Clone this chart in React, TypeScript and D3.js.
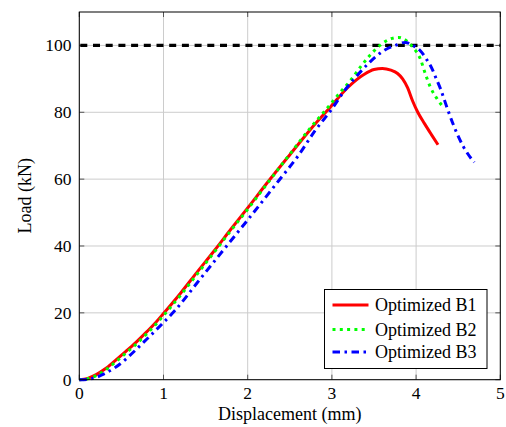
import React, { useRef, useEffect } from "react";
import * as d3 from "d3";

// displacement (mm), load (kN)
const b1: [number, number][] = [
  [0, 0], [0.1, 0.4], [0.2, 1.5], [0.3, 3.1], [0.43, 5.8], [0.55, 8.4], [0.67, 11.1],
  [0.8, 14.3], [0.9, 16.9], [1.0, 19.8], [1.2, 25.8], [1.4, 32.2], [1.61, 38.8],
  [1.8, 45], [2.0, 51.4], [2.26, 59.8], [2.51, 67.6], [2.75, 75], [2.98, 81.5],
  [3.18, 87.2], [3.38, 91.3], [3.5, 92.8], [3.6, 93.1], [3.7, 92.6], [3.78, 91.6],
  [3.84, 90], [3.9, 87.3], [3.96, 83.3], [4.02, 80], [4.1, 76.6], [4.18, 73.4], [4.26, 70.3],
];

const b2: [number, number][] = [
  [0, 0], [0.1, 0.3], [0.2, 1.2], [0.3, 2.7], [0.43, 5.3], [0.55, 7.9], [0.67, 10.5],
  [0.8, 13.7], [0.9, 16.3], [1.0, 19.2], [1.2, 25.2], [1.4, 31.6], [1.61, 38.4],
  [1.8, 44.6], [2.0, 51], [2.26, 59.6], [2.51, 67.8], [2.75, 75.5], [2.92, 80.5],
  [3.1, 86], [3.22, 89.5], [3.34, 93.6], [3.45, 97], [3.57, 100], [3.68, 101.8],
  [3.79, 102.4], [3.88, 101.5], [3.96, 99.5], [4.05, 96], [4.11, 91.5], [4.17, 87.5],
  [4.25, 84], [4.33, 81.3],
];

const b3: [number, number][] = [
  [0, 0], [0.1, 0.1], [0.19, 0.6], [0.3, 1.8], [0.43, 3.7], [0.55, 6.1], [0.67, 8.9],
  [0.8, 12.1], [0.98, 16.6], [1.14, 20.8], [1.4, 29], [1.75, 40], [2.0, 47.8],
  [2.37, 59.6], [2.6, 67], [2.8, 74.5], [3.0, 81], [3.15, 86.5], [3.3, 91],
  [3.45, 95], [3.6, 98.2], [3.75, 100], [3.87, 100.9], [3.96, 100], [4.05, 98.4],
  [4.12, 96], [4.19, 93], [4.24, 90], [4.29, 87], [4.37, 81.2], [4.45, 75.8],
  [4.56, 69.8], [4.69, 65],
];

const limitLoad = 100;
const xTicks = [0, 1, 2, 3, 4, 5];
const yTicks = [0, 20, 40, 60, 80, 100];
const seriesNames = ["Optimized B1", "Optimized B2", "Optimized B3"];

const W = 506;
const H = 427;
const FONT = "'Times New Roman', 'Liberation Serif', Times, 'DejaVu Serif', serif";

export default function App() {
  const svgRef = useRef<SVGSVGElement>(null);

  useEffect(() => {
    const svg = d3.select(svgRef.current);
    svg.selectAll("*").remove();

    const left = 79.3, right = 500.3, top = 12, bottom = 379.7;
    const x = d3.scaleLinear().domain([0, 5]).range([left, right]);
    const y = d3.scaleLinear().domain([0, 110]).range([bottom, top]);

    // grid
    const grid = svg.append("g").attr("stroke", "#cccccc").attr("stroke-width", 1);
    xTicks.forEach((t) => {
      grid.append("line").attr("x1", x(t)).attr("x2", x(t)).attr("y1", top).attr("y2", bottom);
    });
    yTicks.forEach((t) => {
      grid.append("line").attr("x1", left).attr("x2", right).attr("y1", y(t)).attr("y2", y(t));
    });

    // inward ticks on all four sides
    const ticks = svg.append("g").attr("stroke", "#555").attr("stroke-width", 1);
    xTicks.forEach((t) => {
      ticks.append("line").attr("x1", x(t)).attr("x2", x(t)).attr("y1", bottom).attr("y2", bottom - 5);
      ticks.append("line").attr("x1", x(t)).attr("x2", x(t)).attr("y1", top).attr("y2", top + 5);
    });
    yTicks.forEach((t) => {
      ticks.append("line").attr("x1", left).attr("x2", left + 5).attr("y1", y(t)).attr("y2", y(t));
      ticks.append("line").attr("x1", right).attr("x2", right - 5).attr("y1", y(t)).attr("y2", y(t));
    });

    // tick labels
    svg.append("g")
      .selectAll("text")
      .data(xTicks)
      .join("text")
      .attr("x", (d) => x(d))
      .attr("y", 398.5)
      .attr("text-anchor", "middle")
      .style("font-family", FONT)
      .style("font-size", "17.5px")
      .text((d) => d);

    svg.append("g")
      .selectAll("text")
      .data(yTicks)
      .join("text")
      .attr("x", 71.5)
      .attr("y", (d) => y(d) + 6)
      .attr("text-anchor", "end")
      .style("font-family", FONT)
      .style("font-size", "17.5px")
      .text((d) => d);

    // axis labels
    svg.append("text")
      .attr("x", (left + right) / 2)
      .attr("y", 420)
      .attr("text-anchor", "middle")
      .style("font-family", FONT)
      .style("font-size", "18px")
      .text("Displacement (mm)");

    svg.append("text")
      .attr("transform", `translate(31,${(top + bottom) / 2}) rotate(-90)`)
      .attr("text-anchor", "middle")
      .style("font-family", FONT)
      .style("font-size", "18px")
      .text("Load (kN)");

    // limit line
    svg.append("line")
      .attr("x1", x(0))
      .attr("x2", x(5))
      .attr("y1", y(limitLoad))
      .attr("y2", y(limitLoad))
      .attr("stroke", "black")
      .attr("stroke-width", 3.2)
      .attr("stroke-dasharray", "7,5.7")
      .attr("stroke-dashoffset", -1);

    const line = d3
      .line<[number, number]>()
      .x((d) => x(d[0]))
      .y((d) => y(d[1]))
      .curve(d3.curveMonotoneX);

    const styles = [
      { data: b1, color: "#ff0000", dash: null as string | null },
      { data: b2, color: "#00ff00", dash: "3,4.3" },
      { data: b3, color: "#0000ff", dash: "7.5,4.5,2.5,4.5" },
    ];

    styles.forEach((s) => {
      const p = svg.append("path")
        .datum(s.data)
        .attr("fill", "none")
        .attr("stroke", s.color)
        .attr("stroke-width", 3)
        .attr("d", line);
      if (s.dash) p.attr("stroke-dasharray", s.dash);
    });

    // frame
    svg.append("rect")
      .attr("x", left)
      .attr("y", top)
      .attr("width", right - left)
      .attr("height", bottom - top)
      .attr("fill", "none")
      .attr("stroke", "black")
      .attr("stroke-width", 1);

    // legend
    const lg = svg.append("g");
    lg.append("rect")
      .attr("x", 324.5)
      .attr("y", 289.5)
      .attr("width", 162.5)
      .attr("height", 79)
      .attr("fill", "white")
      .attr("stroke", "black")
      .attr("stroke-width", 1);
    const rowY = [305, 329.5, 352];
    styles.forEach((s, i) => {
      const l = lg.append("line")
        .attr("x1", 332.5)
        .attr("x2", 368.5)
        .attr("y1", rowY[i])
        .attr("y2", rowY[i])
        .attr("stroke", s.color)
        .attr("stroke-width", 3);
      if (s.dash) l.attr("stroke-dasharray", s.dash);
      lg.append("text")
        .attr("x", 375)
        .attr("y", rowY[i] + 6)
        .style("font-family", FONT)
        .style("font-size", "18px")
        .text(seriesNames[i]);
    });
  }, []);

  return (
    <svg
      ref={svgRef}
      width={W}
      height={H}
      style={{ position: "absolute", left: 0, top: 0, background: "white" }}
    />
  );
}
